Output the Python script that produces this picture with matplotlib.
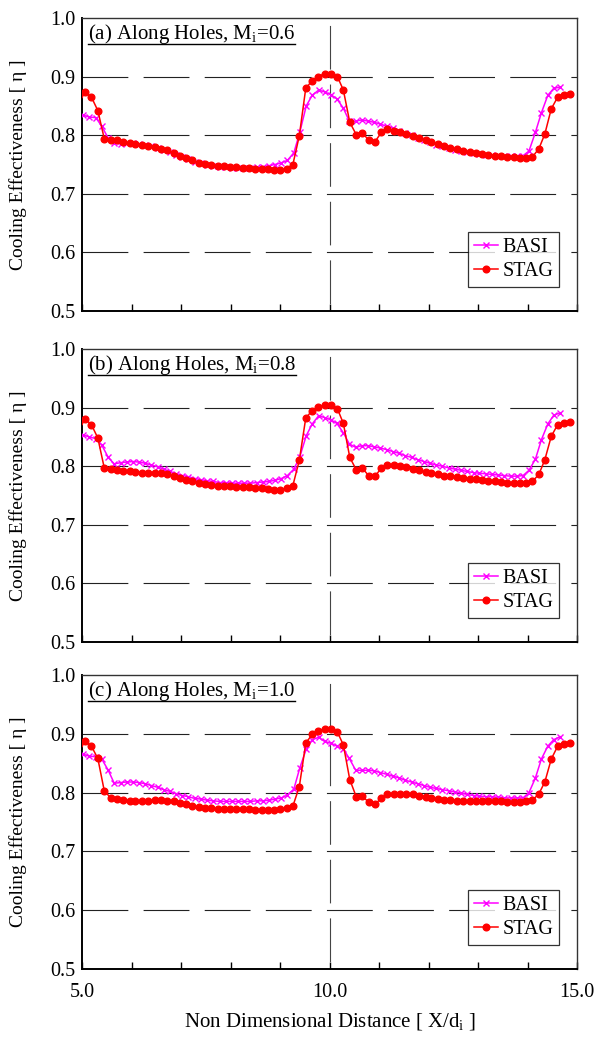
import matplotlib
matplotlib.use('Agg')
import matplotlib.pyplot as plt
from matplotlib.lines import Line2D

plt.rcParams['font.family'] = ['Liberation Serif', 'DejaVu Serif']
plt.rcParams['mathtext.fontset'] = 'custom'
plt.rcParams['mathtext.rm'] = 'Liberation Serif'
plt.rcParams['mathtext.it'] = 'Liberation Serif:italic'
plt.rcParams['lines.scale_dashes'] = False

# ---------------- data ----------------
x_basi = [4.90, 5.03, 5.15, 5.28, 5.40, 5.53, 5.65, 5.78, 5.90, 6.03,
          6.15, 6.28, 6.40, 6.53, 6.65, 6.78, 6.90, 7.03, 7.15, 7.28,
          7.40, 7.53, 7.65, 7.78, 7.90, 8.03, 8.15, 8.28, 8.40, 8.53,
          8.65, 8.78, 8.90, 9.03, 9.15, 9.28, 9.40, 9.53, 9.65, 9.78,
          9.90, 10.03, 10.15, 10.28, 10.40, 10.53, 10.65, 10.78, 10.90, 11.03,
          11.16, 11.28, 11.41, 11.53, 11.66, 11.78, 11.91, 12.03, 12.16, 12.28,
          12.41, 12.53, 12.66, 12.78, 12.91, 13.03, 13.16, 13.28, 13.41, 13.53,
          13.66, 13.78, 13.91, 14.03, 14.16, 14.28, 14.41, 14.53, 14.66]

x_stag = [4.94, 5.07, 5.19, 5.32, 5.45, 5.58, 5.70, 5.83, 5.96, 6.08,
          6.21, 6.34, 6.47, 6.59, 6.72, 6.85, 6.98, 7.10, 7.23, 7.36,
          7.48, 7.61, 7.74, 7.87, 7.99, 8.12, 8.25, 8.37, 8.50, 8.63,
          8.76, 8.88, 9.01, 9.14, 9.26, 9.39, 9.52, 9.65, 9.77, 9.90,
          10.03, 10.16, 10.28, 10.41, 10.54, 10.66, 10.79, 10.92, 11.05, 11.17,
          11.30, 11.43, 11.55, 11.68, 11.81, 11.94, 12.06, 12.19, 12.32, 12.44,
          12.57, 12.70, 12.83, 12.95, 13.08, 13.21, 13.34, 13.46, 13.59, 13.72,
          13.84, 13.97, 14.10, 14.23, 14.35, 14.48, 14.61, 14.73, 14.86]

basi_a = [0.837, 0.834, 0.831, 0.830, 0.815, 0.795, 0.786, 0.785, 0.786, 0.786,
          0.785, 0.783, 0.781, 0.778, 0.775, 0.771, 0.767, 0.763, 0.759, 0.755,
          0.752, 0.749, 0.747, 0.746, 0.745, 0.744, 0.744, 0.744, 0.744, 0.745,
          0.746, 0.748, 0.750, 0.753, 0.757, 0.770, 0.805, 0.850, 0.868, 0.877,
          0.874, 0.869, 0.862, 0.846, 0.824, 0.824, 0.826, 0.824, 0.822, 0.819,
          0.815, 0.812, 0.808, 0.804, 0.800, 0.796, 0.792, 0.788, 0.784, 0.781,
          0.778, 0.775, 0.773, 0.771, 0.770, 0.768, 0.767, 0.766, 0.765, 0.764,
          0.764, 0.764, 0.765, 0.773, 0.805, 0.838, 0.868, 0.880, 0.882]
stag_a = [0.868, 0.873, 0.865, 0.842, 0.794, 0.791, 0.791, 0.788, 0.786, 0.785,
          0.783, 0.781, 0.780, 0.777, 0.774, 0.769, 0.765, 0.761, 0.757, 0.753,
          0.751, 0.749, 0.747, 0.747, 0.745, 0.745, 0.744, 0.744, 0.743, 0.743,
          0.742, 0.741, 0.741, 0.743, 0.750, 0.799, 0.880, 0.893, 0.900, 0.905,
          0.905, 0.900, 0.877, 0.822, 0.801, 0.804, 0.792, 0.789, 0.805, 0.810,
          0.808, 0.805, 0.802, 0.799, 0.796, 0.792, 0.789, 0.785, 0.782, 0.779,
          0.776, 0.773, 0.771, 0.769, 0.768, 0.766, 0.765, 0.764, 0.763, 0.762,
          0.761, 0.761, 0.763, 0.777, 0.802, 0.845, 0.865, 0.868, 0.870]

basi_b = [0.857, 0.853, 0.850, 0.847, 0.836, 0.815, 0.804, 0.806, 0.807, 0.808,
          0.807, 0.805, 0.802, 0.799, 0.795, 0.791, 0.787, 0.784, 0.782, 0.779,
          0.777, 0.775, 0.774, 0.772, 0.772, 0.771, 0.771, 0.771, 0.771, 0.772,
          0.773, 0.774, 0.776, 0.779, 0.784, 0.795, 0.816, 0.852, 0.872, 0.886,
          0.883, 0.879, 0.873, 0.857, 0.838, 0.832, 0.835, 0.835, 0.833, 0.831,
          0.828, 0.825, 0.822, 0.818, 0.815, 0.811, 0.808, 0.805, 0.802, 0.800,
          0.797, 0.795, 0.793, 0.791, 0.789, 0.788, 0.787, 0.786, 0.785, 0.784,
          0.783, 0.783, 0.784, 0.793, 0.812, 0.845, 0.872, 0.887, 0.891]
stag_b = [0.875, 0.880, 0.871, 0.848, 0.797, 0.795, 0.794, 0.792, 0.791, 0.790,
          0.789, 0.789, 0.789, 0.788, 0.786, 0.783, 0.780, 0.777, 0.775, 0.772,
          0.770, 0.768, 0.767, 0.766, 0.766, 0.765, 0.764, 0.764, 0.763, 0.762,
          0.761, 0.760, 0.760, 0.762, 0.767, 0.810, 0.882, 0.895, 0.901, 0.904,
          0.904, 0.898, 0.873, 0.815, 0.794, 0.797, 0.784, 0.783, 0.797, 0.802,
          0.802, 0.801, 0.799, 0.796, 0.793, 0.790, 0.788, 0.786, 0.784, 0.783,
          0.781, 0.780, 0.779, 0.778, 0.776, 0.775, 0.774, 0.773, 0.772, 0.771,
          0.771, 0.771, 0.774, 0.786, 0.811, 0.851, 0.871, 0.874, 0.876]

basi_c = [0.867, 0.865, 0.862, 0.861, 0.857, 0.838, 0.816, 0.817, 0.818, 0.818,
          0.817, 0.815, 0.812, 0.809, 0.805, 0.802, 0.798, 0.795, 0.793, 0.790,
          0.789, 0.787, 0.786, 0.785, 0.785, 0.785, 0.785, 0.785, 0.785, 0.786,
          0.786, 0.787, 0.789, 0.791, 0.796, 0.806, 0.842, 0.874, 0.890, 0.894,
          0.887, 0.884, 0.879, 0.874, 0.858, 0.838, 0.838, 0.838, 0.837, 0.834,
          0.831, 0.828, 0.825, 0.821, 0.818, 0.815, 0.812, 0.809, 0.807, 0.805,
          0.803, 0.801, 0.799, 0.797, 0.795, 0.794, 0.793, 0.793, 0.792, 0.791,
          0.791, 0.791, 0.791, 0.800, 0.825, 0.857, 0.879, 0.890, 0.895]
stag_c = [0.882, 0.887, 0.879, 0.858, 0.803, 0.791, 0.789, 0.787, 0.786, 0.786,
          0.786, 0.786, 0.787, 0.787, 0.786, 0.785, 0.782, 0.780, 0.778, 0.775,
          0.774, 0.773, 0.772, 0.772, 0.772, 0.772, 0.772, 0.772, 0.771, 0.771,
          0.771, 0.771, 0.772, 0.773, 0.777, 0.810, 0.884, 0.899, 0.905, 0.908,
          0.908, 0.903, 0.881, 0.822, 0.793, 0.794, 0.784, 0.781, 0.790, 0.798,
          0.798, 0.798, 0.798, 0.797, 0.795, 0.793, 0.791, 0.789, 0.788, 0.787,
          0.786, 0.786, 0.786, 0.786, 0.786, 0.786, 0.785, 0.785, 0.784, 0.784,
          0.784, 0.785, 0.787, 0.798, 0.818, 0.857, 0.879, 0.883, 0.885]

panel_titles = ['(a) Along Holes, M$_\\mathregular{i}$=0.6',
                '(b) Along Holes, M$_\\mathregular{i}$=0.8',
                '(c) Along Holes, M$_\\mathregular{i}$=1.0']
series_names = ['BASI', 'STAG']
y_ticks = [0.5, 0.6, 0.7, 0.8, 0.9, 1.0]
y_tick_labels = ['0.5', '0.6', '0.7', '0.8', '0.9', '1.0']
x_ticks = [5, 10, 15]
x_tick_labels = ['5.0', '10.0', '15.0']
x_minor = [6, 7, 8, 9, 11, 12, 13, 14]
y_label = 'Cooling Effectiveness [ \u03b7 ]'
x_label = 'Non Dimensional Distance [ X/d$_\\mathregular{i}$ ]'

basi_all = [basi_a, basi_b, basi_c]
stag_all = [stag_a, stag_b, stag_c]

# ---------------- figure ----------------
W, H = 595, 1037
fig = plt.figure(figsize=(W / 100, H / 100), dpi=100)

left_px, right_px = 82, 577
panels_px = [(18, 311), (349, 642), (675, 969)]

axes = []
for i, (top, bot) in enumerate(panels_px):
    ax = fig.add_axes([left_px / W, 1 - bot / H, (right_px - left_px) / W, (bot - top) / H])
    axes.append(ax)
    ax.set_xlim(5, 15)
    ax.set_ylim(0.5, 1.0)

    for v in [0.6, 0.7, 0.8, 0.9]:
        ax.axhline(v, color='#222222', lw=0.8, dashes=(33, 11), zorder=1)
    ax.axvline(10, color='#444444', lw=0.8, linestyle=(36.8, (31.4, 10.8)), zorder=1)

    ax.plot(x_basi, basi_all[i], color='#FF00FF', lw=1.1, marker='x', ms=4.5,
            mew=1.0, label=series_names[0], zorder=3)
    ax.plot(x_stag, stag_all[i], color='#FF0000', lw=1.1, marker='o', ms=4.8,
            mec='#FF0000', mfc='#FF0000', label=series_names[1], zorder=4)

    ax.set_yticks(y_ticks)
    ax.set_yticklabels(y_tick_labels, fontsize=14.5)
    ax.tick_params(axis='y', length=0, pad=5)
    ax.set_xticks(x_ticks)
    ax.set_xticks(x_minor, minor=True)
    ax.tick_params(axis='x', which='both', direction='in', length=5, width=1,
                   pad=10, labelsize=14.5)
    if i == 2:
        ax.set_xticklabels(x_tick_labels)
    else:
        ax.set_xticklabels([])

    for s in ['left', 'bottom']:
        ax.spines[s].set_linewidth(1.4)
    for s in ['top', 'right']:
        ax.spines[s].set_linewidth(1.0)
        ax.spines[s].set_color('#333333')

    leg = ax.legend(loc='lower right', bbox_to_anchor=(0.964, 0.082),
                    borderaxespad=0, fontsize=14.5, frameon=True, fancybox=False,
                    edgecolor='black', handlelength=1.2, handletextpad=0.2,
                    labelspacing=0.25, borderpad=0.3)
    leg.get_frame().set_linewidth(0.9)

    fig.text(18 / W, 1 - ((top + bot) / 2) / H, y_label, rotation=90,
             ha='center', va='center', fontsize=14)

titles = []
for i, ax in enumerate(axes):
    t = ax.text(0.012, 0.985, panel_titles[i], transform=ax.transAxes,
                ha='left', va='top', fontsize=15, zorder=5)
    titles.append(t)

fig.text(330 / W, 1 - 1022 / H, x_label, ha='center', va='center', fontsize=15)

fig.canvas.draw()
r = fig.canvas.get_renderer()
for t in titles:
    bb = t.get_window_extent(r)
    yline = bb.y0 + 2.5
    fig.add_artist(Line2D([bb.x0 / W, bb.x1 / W], [yline / H, yline / H],
                          transform=fig.transFigure, color='black', lw=1.0))

fig.savefig('out.png', dpi=100)
